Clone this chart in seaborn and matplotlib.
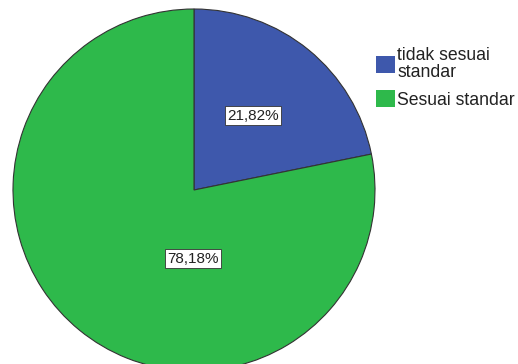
import matplotlib
matplotlib.use("Agg")
import matplotlib.pyplot as plt
import seaborn as sns
from matplotlib.patches import Patch

categories = ["tidak sesuai\nstandar", "Sesuai standar"]
values = [21.82, 78.18]
colors = ["#3e58ac", "#2eb94b"]

sns.set_theme(style="white")
plt.rcParams["font.family"] = ["Liberation Sans", "DejaVu Sans"]

W, H = 518, 364
fig = plt.figure(figsize=(W / 100, H / 100), dpi=100)
cx, cy, r = 194, 190, 181
ax = fig.add_axes([(cx - r) / W, (H - cy - r) / H, 2 * r / W, 2 * r / H])

wedges, _ = ax.pie(values, colors=colors, startangle=90, counterclock=False,
                   wedgeprops=dict(edgecolor="#333333", linewidth=0.8))
ax.set_xlim(-1, 1)
ax.set_ylim(-1, 1)
ax.set_axis_off()

label_pos = [(0.326, 0.41), (-0.006, -0.38)]
for v, (x, y) in zip(values, label_pos):
    ax.text(x, y, f"{v:.2f}%".replace(".", ","), ha="center", va="center",
            fontsize=11, color="#222222",
            bbox=dict(boxstyle="square,pad=0.15", fc="white", ec="#333333", lw=0.6))

handles = [Patch(facecolor=c, edgecolor="none") for c in colors]
leg = fig.legend(handles, categories, loc="upper left",
                 bbox_to_anchor=(376 / W, (H - 47) / H), frameon=False,
                 fontsize=12.7, handlelength=1.05, handleheight=1.15,
                 handletextpad=0.15, labelspacing=0.5, borderpad=0,
                 borderaxespad=0)
for t in leg.get_texts():
    t.set_linespacing(1.0)
    t.set_color("#222222")

fig.savefig("out.png", dpi=100)
